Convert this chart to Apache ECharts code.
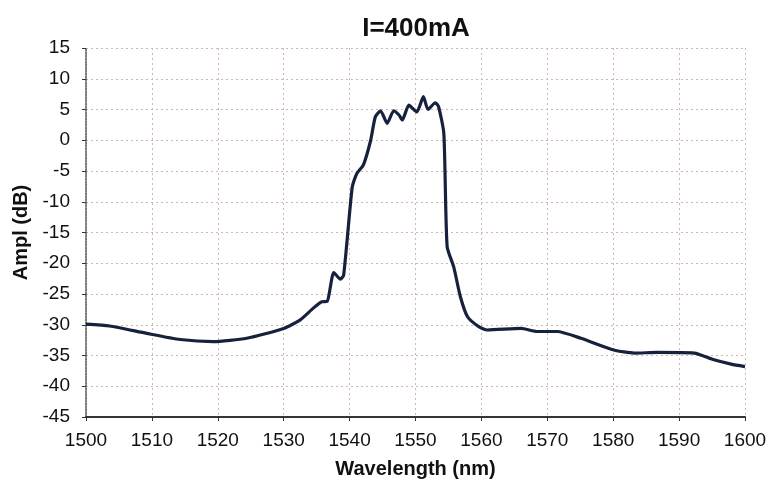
<!DOCTYPE html>
<html>
<head>
<meta charset="utf-8">
<script src="https://cdn.jsdelivr.net/npm/echarts@6/dist/echarts.min.js"></script>
<style>
  html, body { margin: 0; padding: 0; background: #fff; }
  #chart { width: 769px; height: 482px; }
</style>
</head>
<body>
<div id="chart"></div>
<script>
// Spectrum
var wavelength = [1500, 1503.6, 1509.2, 1514.3, 1519.3, 1524.4, 1530, 1532.5, 1534.5, 1535.8,
  1536.6, 1537.6, 1538.6, 1539.1, 1540.4, 1541.1, 1542.1, 1543.2, 1543.9, 1544.7,
  1545.7, 1546.7, 1547.5, 1548, 1549, 1550.2, 1551.2, 1551.9, 1553, 1553.5,
  1554.3, 1554.8, 1555.8, 1556.8, 1557.9, 1559.6, 1560.9, 1566, 1568.5, 1571.5,
  1575.1, 1580.1, 1583.2, 1586.7, 1592.3, 1595.3, 1597.9, 1600];
var ampl = [-29.9, -30.2, -31.4, -32.4, -32.75, -32.2, -30.6, -29.2, -27.3, -26.25,
  -26.2, -21.5, -22.6, -21.9, -7.6, -5.4, -4.0, 0.0, 3.8, 4.8,
  2.75, 4.8, 4.1, 3.3, 5.7, 4.6, 7.1, 5.0, 6.1, 5.45,
  1.1, -17.3, -20.6, -25.4, -28.7, -30.3, -30.85, -30.6, -31.1, -31.1,
  -32.2, -34.1, -34.6, -34.5, -34.6, -35.7, -36.4, -36.8];

var xTicks = { min: 1500, max: 1600, step: 10 };
var yTicks = { min: -45, max: 15, step: 5 };

var points = wavelength.map(function(w, i) { return [w, ampl[i]]; });

var chart = echarts.init(document.getElementById('chart'));

var gridLine = { show: true, lineStyle: { color: '#d2b5b5', type: [2, 3], width: 1 } };
var labelFont = { fontFamily: 'Liberation Sans', fontSize: 19, color: '#111' };
var nameFont = { fontFamily: 'Liberation Sans', fontWeight: 'bold', fontSize: 20, color: '#111' };

chart.setOption({
  backgroundColor: '#ffffff',
  animation: false,
  title: {
    text: 'I=400mA',
    left: 411,
    top: 11,
    textAlign: 'center',
    textStyle: { fontFamily: 'Liberation Sans', fontWeight: 'bold', fontSize: 26, color: '#111' }
  },
  grid: { left: 86, right: 24, top: 48, bottom: 65, outerBoundsMode: 'none', containLabel: false },
  xAxis: {
    type: 'value',
    min: xTicks.min,
    max: xTicks.max,
    interval: xTicks.step,
    name: 'Wavelength (nm)',
    nameLocation: 'middle',
    nameGap: 42,
    nameTextStyle: nameFont,
    axisLine: { show: true, onZero: false, lineStyle: { color: '#333', width: 2, type: [3, 1] } },
    axisTick: { show: true, length: 4, lineStyle: { color: '#333' } },
    axisLabel: Object.assign({ margin: 14, formatter: function(v) { return String(v); } }, labelFont),
    splitLine: gridLine
  },
  yAxis: {
    type: 'value',
    min: yTicks.min,
    max: yTicks.max,
    interval: yTicks.step,
    name: 'Ampl (dB)',
    nameLocation: 'middle',
    nameGap: 54,
    nameTextStyle: nameFont,
    axisLine: { show: true, onZero: false, lineStyle: { color: '#555', width: 1.5, type: [2, 1] } },
    axisTick: { show: true, length: 4, lineStyle: { color: '#333' } },
    axisLabel: Object.assign({ margin: 16 }, labelFont),
    splitLine: gridLine
  },
  series: [{
    type: 'line',
    data: points,
    showSymbol: false,
    smooth: 0.2,
    lineStyle: { color: '#16213d', width: 3.2 }
  }]
});
</script>
</body>
</html>
